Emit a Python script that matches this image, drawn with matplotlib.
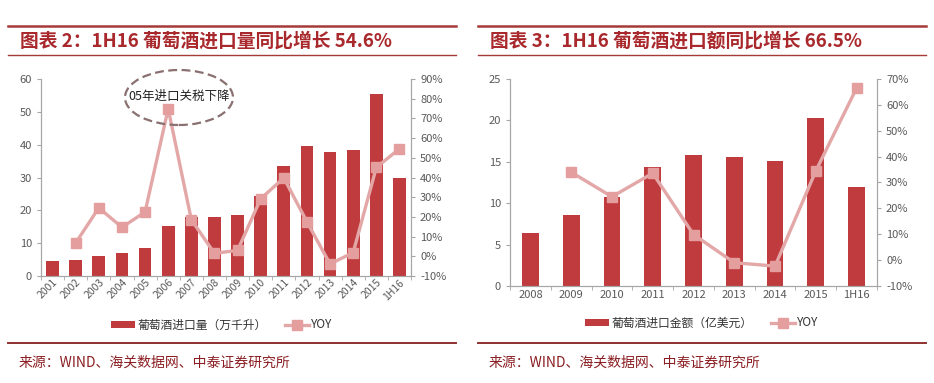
import matplotlib
matplotlib.use("Agg")
import matplotlib.pyplot as plt
from matplotlib.lines import Line2D
from matplotlib.patches import Ellipse
from matplotlib.ticker import FuncFormatter, MultipleLocator
import numpy as np

plt.rcParams['font.family'] = ['Noto Sans CJK SC', 'DejaVu Sans']

# ---- data: chart 2 (volume) ----
years_vol = ['2001', '2002', '2003', '2004', '2005', '2006', '2007', '2008', '2009',
             '2010', '2011', '2012', '2013', '2014', '2015', '1H16']
volume = [4.6, 5.0, 6.0, 7.1, 8.5, 15.3, 18.1, 18.1, 18.6, 24.5, 33.5, 39.5, 37.7, 38.3, 55.4, 29.9]
yoy_vol = [np.nan, 6.8, 24.6, 14.7, 22.5, 74.9, 18.6, 1.5, 3.0, 29.2, 39.8, 17.5, -3.9, 1.9, 45.1, 54.6]

# ---- data: chart 3 (value) ----
years_val = ['2008', '2009', '2010', '2011', '2012', '2013', '2014', '2015', '1H16']
value = [6.4, 8.6, 10.8, 14.4, 15.8, 15.6, 15.1, 20.3, 11.9]
yoy_val = [np.nan, 34.0, 24.5, 33.6, 9.9, -1.0, -2.3, 34.5, 66.5]

title_left = '图表 2：1H16 葡萄酒进口量同比增长 54.6%'
title_right = '图表 3：1H16 葡萄酒进口额同比增长 66.5%'
legend_left = '葡萄酒进口量（万千升）'
legend_right = '葡萄酒进口金额（亿美元）'
source = '来源：WIND、海关数据网、中泰证券研究所'
annot = '05年进口关税下降'

BAR = '#BF3B3E'
LINE = '#E3A7A7'
MARK = '#E49E9E'
RED = '#A8282C'
TXT = '#595959'
SPINE = '#A6A6A6'

W, H = 934, 383
fig = plt.figure(figsize=(W / 100, H / 100), dpi=100)


def fx(px):
    return px / W


def fy(py):
    return 1 - py / H


def style_axes(ax, ax2, n):
    for a in (ax, ax2):
        a.spines['top'].set_visible(False)
        for s in ('left', 'right', 'bottom'):
            a.spines[s].set_color(SPINE)
            a.spines[s].set_linewidth(0.8)
        a.tick_params(colors=TXT, labelsize=8, length=3, width=0.8, color=SPINE)
    ax.set_xlim(-0.5, n - 0.5)
    ax.set_xticks(np.arange(-0.5, n, 1.0), minor=True)
    ax.tick_params(axis='x', which='major', length=0)
    ax.tick_params(axis='x', which='minor', length=3, color=SPINE)


def draw_chart(rect, cats, bars, yoy, ylim, ystep, y2lim, y2step, width, rot, leg_label, leg_y, leg_x):
    ax = fig.add_axes(rect)
    x = np.arange(len(cats))
    b = ax.bar(x, bars, width=width, color=BAR, zorder=2, label=leg_label)
    ax.set_ylim(*ylim)
    ax.yaxis.set_major_locator(MultipleLocator(ystep))
    ax.set_xticks(x)
    if rot:
        ax.set_xticklabels(cats, rotation=45, ha='right', rotation_mode='anchor')
    else:
        ax.set_xticklabels(cats)
    ax2 = ax.twinx()
    l, = ax2.plot(x, yoy, color=LINE, lw=2.4, marker='s', markersize=6.5,
                  markerfacecolor=MARK, markeredgecolor=MARK, zorder=3, label='YOY')
    ax2.set_ylim(*y2lim)
    ax2.yaxis.set_major_locator(MultipleLocator(y2step))
    ax2.yaxis.set_major_formatter(FuncFormatter(lambda v, p: f'{v:.0f}%'))
    style_axes(ax, ax2, len(cats))
    ax.tick_params(axis='x', labelsize=8, pad=3)
    fig.legend([b, l], [leg_label, 'YOY'], loc='center', bbox_to_anchor=(leg_x, leg_y),
               ncol=2, frameon=False, fontsize=8.5, handlelength=2.0, handleheight=0.6,
               columnspacing=1.6, handletextpad=0.2, labelcolor='#333333')
    return ax, ax2


# left chart
axL, axL2 = draw_chart([fx(41), fy(276), fx(411) - fx(41), fy(79) - fy(276)],
                       years_vol, volume, yoy_vol, (0, 60), 10, (-10, 90), 10,
                       0.55, True, legend_left, fy(325), fx(222))
axL.tick_params(axis='x', labelsize=7.5, pad=1)

# annotation ellipse on left chart (in figure pixel coordinates)
ell = Ellipse((fx(179), fy(97.5)), fx(108), 55 / H, transform=fig.transFigure,
              fill=False, ls=(0, (4, 2)), lw=1.6, edgecolor='#8A7070', zorder=5)
fig.add_artist(ell)
fig.text(fx(179), fy(96), annot, ha='center', va='center', fontsize=9, color='#222222')

# right chart
axR, axR2 = draw_chart([fx(510), fy(286), fx(877) - fx(510), fy(79) - fy(286)],
                       years_val, value, yoy_val, (0, 25), 5, (-10, 70), 10,
                       0.41, False, legend_right, fy(323), fx(702))

# titles and rules
for x0, x1, t in ((8, 456, title_left), (478, 926, title_right)):
    fig.add_artist(Line2D([fx(x0), fx(x1)], [fy(26), fy(26)], color='#A53A38', lw=1.8,
                          transform=fig.transFigure))
    fig.add_artist(Line2D([fx(x0), fx(x1)], [fy(55), fy(55)], color='#A53A38', lw=1.0,
                          transform=fig.transFigure))
    fig.text(fx(x0 + 12), fy(41), t, ha='left', va='center', fontsize=13.5,
             fontweight='bold', color=RED)
    fig.add_artist(Line2D([fx(x0), fx(x1)], [fy(343), fy(343)], color='#8E3030', lw=1.4,
                          transform=fig.transFigure))
    fig.text(fx(x0 + 11), fy(363), source, ha='left', va='center', fontsize=10,
             color='#8B1E22')

fig.savefig('out.png', dpi=100, facecolor='white')
